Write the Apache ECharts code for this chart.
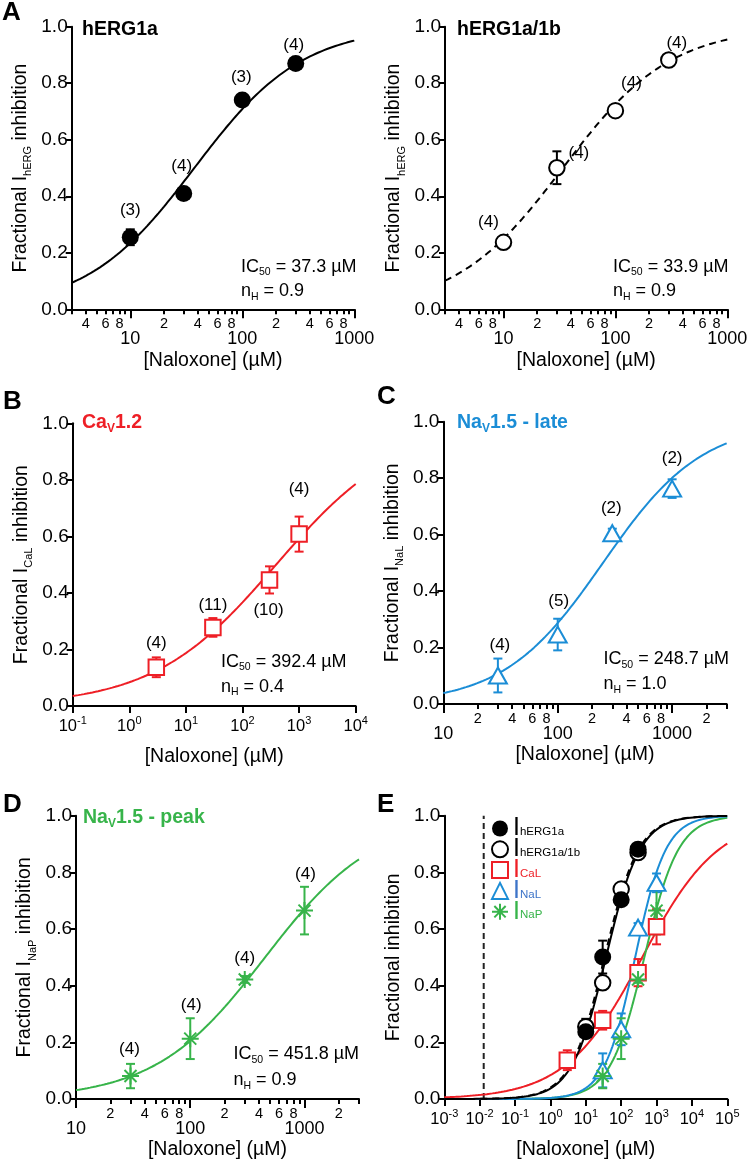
<!DOCTYPE html>
<html><head><meta charset="utf-8">
<script src="https://cdn.jsdelivr.net/npm/echarts@6/dist/echarts.min.js"></script>
<style>html,body{margin:0;padding:0;background:#fff;}#c{width:750px;height:1159px;}</style>
</head><body><div id="c"></div>
<script>
// ---------------- data ----------------
const hergA_x = [10, 30, 100, 300];
const hergA_y = [0.255, 0.410, 0.741, 0.870];
const hergA_err = [0.028, 0.02, 0.015, 0.01];
const hergA_n = [3, 4, 3, 4];

const hergB_x = [10, 30, 100, 300];
const hergB_y = [0.237, 0.501, 0.703, 0.882];
const hergB_err = [0.015, 0.058, 0.015, 0.01];
const hergB_n = [4, 4, 4, 4];

const cal_x = [3, 30, 300, 1000];
const cal_y = [0.137, 0.278, 0.446, 0.608];
const cal_err = [0.035, 0.033, 0.048, 0.062];
const cal_n = [4, 11, 10, 4];

const nal_x = [30, 100, 300, 1000];
const nal_y = [0.101, 0.246, 0.605, 0.763];
const nal_err = [0.06, 0.056, 0.016, 0.033];
const nal_n = [4, 5, 2, 2];

const nap_x = [30, 100, 300, 1000];
const nap_y = [0.081, 0.213, 0.422, 0.665];
const nap_err = [0.043, 0.072, 0.012, 0.084];
const nap_n = [4, 4, 4, 4];

// Hill fit parameters shown in the panels: [IC50 (uM), nH]
const fit_hergA = [37.3, 0.9];
const fit_hergB = [33.9, 0.9];
const fit_cal = [392.4, 0.4];
const fit_nal = [248.7, 1.0];
const fit_nap = [451.8, 0.9];

// dashed reference concentration in panel E
const cmax_x = [0.013, 0.013];
const cmax_y = [0, 1];

// tick labels
const ticksMajorA = [10, 100, 1000];
const ticksMinorLabA = [4, 6, 8, 20, 40, 60, 80, 200, 400, 600, 800];
const ticksMajorCD = [10, 100, 1000];
const ticksMinorLabCD = [20, 40, 60, 80, 200, 400, 600, 800, 2000];
const ticksB = [0.1, 1, 10, 100, 1000, 10000];
const ticksE = [0.001, 0.01, 0.1, 1, 10, 100, 1000, 10000, 100000];
const yTicks = [0, 0.2, 0.4, 0.6, 0.8, 1.0];

// ---------------- styling ----------------
const FONT = 'Liberation Sans, Arial, Helvetica, sans-serif';
const RED = '#ee1f26', BLUE = '#1b8dd6', GREEN = '#37b44a', BLACK = '#000';

function minorTicks(lo, hi) {
  const v = [];
  for (let e = -3; e <= 5; e++) for (let k = 2; k <= 9; k++) {
    const x = +(k * Math.pow(10, e)).toPrecision(6);
    if (x >= lo * 0.9999 && x <= hi * 1.0001) v.push(x);
  }
  return v;
}
function hill(p, lo, hi) {
  const out = [], a = Math.log10(lo), b = Math.log10(hi), n = 300;
  for (let i = 0; i <= n; i++) {
    const x = Math.pow(10, a + (b - a) * i / n);
    out.push([x, 1 / (1 + Math.pow(p[0] / x, p[1]))]);
  }
  return out;
}
const grids = [
  { left: 71.7, top: 26.7, width: 282.6, height: 282.6 },
  { left: 445, top: 26.7, width: 282.3, height: 282.6 },
  { left: 72.7, top: 423.3, width: 283, height: 282.7 },
  { left: 443.3, top: 421.7, width: 283.4, height: 282.3 },
  { left: 76, top: 815.7, width: 283, height: 283.3 },
  { left: 444.3, top: 815.7, width: 283, height: 283.3 }
].map(g => Object.assign({ containLabel: false, outerBoundsMode: 'none' }, g));

const ranges = [[3, 1000], [3, 1000], [0.1, 10000], [10, 3000], [10, 3000], [0.001, 100000]];

const supRich = {
  b: { fontSize: 16.5, lineHeight: 22, fontFamily: FONT, color: BLACK },
  s: { fontSize: 11, lineHeight: 11, verticalAlign: 'top', fontFamily: FONT, color: BLACK }
};
function supFmt(v) { return '{b|10}{s|' + Math.round(Math.log10(v)) + '}'; }
function firstDigit(v) { return String(Math.round(v / Math.pow(10, Math.floor(Math.log10(v) + 1e-9)))); }

const xAxes = [], yAxes = [];
const yNames = [['hERG', BLACK], ['hERG', BLACK], ['CaL', BLACK], ['NaL', BLACK], ['NaP', BLACK], null];
for (let gi = 0; gi < 6; gi++) {
  const [lo, hi] = ranges[gi];
  const logDecades = (gi === 2 || gi === 5);
  const majT = logDecades ? (gi === 2 ? ticksB : ticksE) : (gi < 2 ? ticksMajorA : ticksMajorCD);
  xAxes.push({
    type: 'log', logBase: 10, gridIndex: gi, position: 'bottom', min: lo, max: hi,
    axisLine: { show: true, onZero: false, lineStyle: { color: BLACK, width: 2 } },
    axisTick: { show: true, length: logDecades ? 7 : 9, lineStyle: { color: BLACK, width: 2 }, customValues: majT },
    axisLabel: logDecades
      ? { customValues: majT, formatter: supFmt, rich: supRich, margin: 9, color: BLACK, fontFamily: FONT }
      : { customValues: majT, formatter: v => String(Math.round(v)), margin: 21, fontSize: 18, color: BLACK, fontFamily: FONT },
    splitLine: { show: false }, minorTick: { show: false },
    name: '[Naloxone] (\u00b5M)', nameLocation: 'middle', nameGap: 41,
    nameTextStyle: { fontSize: 19.5, color: BLACK, fontFamily: FONT }
  });
  if (!logDecades) {
    xAxes.push({
      type: 'log', logBase: 10, gridIndex: gi, position: 'bottom', min: lo, max: hi,
      axisLine: { show: false },
      axisTick: { show: true, length: 5, lineStyle: { color: BLACK, width: 2 }, customValues: minorTicks(lo, hi) },
      axisLabel: { customValues: gi < 2 ? ticksMinorLabA : ticksMinorLabCD, formatter: firstDigit, margin: 7, fontSize: 14.5, color: BLACK, fontFamily: FONT },
      splitLine: { show: false }
    });
  } else {
    xAxes.push({ type: 'log', gridIndex: gi, position: 'bottom', min: lo, max: hi, show: false });
  }
  const yn = yNames[gi];
  yAxes.push({
    type: 'value', gridIndex: gi, min: 0, max: 1, interval: 0.2,
    axisLine: { show: true, onZero: false, lineStyle: { color: BLACK, width: 2 } },
    axisTick: { show: true, length: 6, lineStyle: { color: BLACK, width: 2 } },
    axisLabel: { formatter: v => v.toFixed(1), fontSize: 19, margin: 4, color: BLACK, fontFamily: FONT },
    splitLine: { show: false },
    name: yn ? '{a|Fractional I}{s|' + yn[0] + '}{a| inhibition}' : '{a|Fractional inhibition}',
    nameLocation: 'middle', nameGap: 38,
    nameTextStyle: {
      fontFamily: FONT, color: BLACK,
      rich: {
        a: { fontSize: 19.5, lineHeight: 26, fontFamily: FONT, color: BLACK },
        s: { fontSize: 11, lineHeight: 12, verticalAlign: 'bottom', fontFamily: FONT, color: BLACK }
      }
    }
  });
}

// label offsets for "(n)" annotations (layout only)
const offA1 = [[0, -27], [-2, -27], [-1, -23], [-2, -18]];
const offA2 = [[-15, -20], [22, -14], [16, -27], [8, -17]];
const offB = [[0, -24], [0, -22], [-1, 30], [0, -45]];
const offC = [[2, -30], [1, -33], [-1, -25], [0, -30]];
const offD = [[-1, -27], [1, -33], [0, -21], [1, -36]];

const STAR = 'path://M0,-10L0,10M-10,0L10,0M-7.07,-7.07L7.07,7.07M-7.07,7.07L7.07,-7.07';
const SYM = {
  filled: { symbol: 'circle', symbolSize: 17, itemStyle: { color: BLACK, borderWidth: 0, opacity: 1 } },
  open: { symbol: 'emptyCircle', symbolSize: 15.5, itemStyle: { color: BLACK, borderColor: BLACK, borderWidth: 2, opacity: 1 } },
  square: { symbol: 'emptyRect', symbolSize: 15.5, itemStyle: { color: RED, borderColor: RED, borderWidth: 2, opacity: 1 } },
  tri: { symbol: 'emptyTriangle', symbolSize: [18, 16], itemStyle: { color: BLUE, borderColor: BLUE, borderWidth: 2, opacity: 1 } },
  star: { symbol: STAR, symbolSize: 17, itemStyle: { color: GREEN, borderColor: GREEN, borderWidth: 2, opacity: 1 } }
};

function scatter(gi, name, xs, ys, sym, ns, offs) {
  const s = Object.assign({
    type: 'scatter', name, xAxisIndex: 2 * gi, yAxisIndex: gi, z: 6, silent: true,
    data: xs.map((x, i) => offs ? { value: [x, ys[i]], label: { offset: offs[i] } } : { value: [x, ys[i]] })
  }, JSON.parse(JSON.stringify(sym)));
  if (ns) s.label = { show: true, position: 'inside', formatter: p => '(' + ns[p.dataIndex] + ')', color: BLACK, opacity: 1, fontSize: 17, fontFamily: FONT, textBorderWidth: 0 };
  return s;
}
function errbars(gi, xs, ys, es, color) {
  return {
    type: 'custom', xAxisIndex: 2 * gi, yAxisIndex: gi, z: 4, silent: true, clip: false,
    data: xs.map((x, i) => [x, ys[i] - es[i], ys[i] + es[i]]),
    encode: { x: 0, y: [1, 2] },
    renderItem: (params, api) => {
      const x = api.value(0), p1 = api.coord([x, api.value(1)]), p2 = api.coord([x, api.value(2)]), w = 4.5;
      const st = { stroke: color, lineWidth: 2 };
      return { type: 'group', children: [
        { type: 'line', shape: { x1: p1[0], y1: p1[1], x2: p2[0], y2: p2[1] }, style: st },
        { type: 'line', shape: { x1: p1[0] - w, y1: p1[1], x2: p1[0] + w, y2: p1[1] }, style: st },
        { type: 'line', shape: { x1: p2[0] - w, y1: p2[1], x2: p2[0] + w, y2: p2[1] }, style: st }
      ] };
    }
  };
}
function curve(gi, p, color, dashed) {
  const [lo, hi] = ranges[gi];
  return {
    type: 'line', xAxisIndex: 2 * gi, yAxisIndex: gi, z: 2, silent: true, symbol: 'none', showSymbol: false,
    data: hill(p, lo, hi), lineStyle: { color, width: 2, type: dashed ? [7, 5] : 'solid' }
  };
}

const series = [
  curve(0, fit_hergA, BLACK, false),
  errbars(0, hergA_x, hergA_y, hergA_err, BLACK),
  scatter(0, 'a1', hergA_x, hergA_y, SYM.filled, hergA_n, offA1),
  curve(1, fit_hergB, BLACK, true),
  errbars(1, hergB_x, hergB_y, hergB_err, BLACK),
  scatter(1, 'a2', hergB_x, hergB_y, SYM.open, hergB_n, offA2),
  curve(2, fit_cal, RED, false),
  errbars(2, cal_x, cal_y, cal_err, RED),
  scatter(2, 'b', cal_x, cal_y, SYM.square, cal_n, offB),
  curve(3, fit_nal, BLUE, false),
  errbars(3, nal_x, nal_y, nal_err, BLUE),
  scatter(3, 'c', nal_x, nal_y, SYM.tri, nal_n, offC),
  curve(4, fit_nap, GREEN, false),
  errbars(4, nap_x, nap_y, nap_err, GREEN),
  scatter(4, 'd', nap_x, nap_y, SYM.star, nap_n, offD),
  { type: 'line', xAxisIndex: 10, yAxisIndex: 5, z: 1, silent: true, symbol: 'none',
    data: cmax_x.map((x, i) => [x, cmax_y[i]]), lineStyle: { color: '#222', width: 2, type: [6, 4] } },
  curve(5, fit_cal, RED, false),
  curve(5, fit_nap, GREEN, false),
  curve(5, fit_nal, BLUE, false),
  curve(5, fit_hergB, BLACK, true),
  curve(5, fit_hergA, BLACK, false),
  errbars(5, cal_x, cal_y, cal_err, RED),
  errbars(5, nal_x, nal_y, nal_err, BLUE),
  errbars(5, nap_x, nap_y, nap_err, GREEN),
  errbars(5, hergA_x, hergA_y, hergA_err, BLACK),
  errbars(5, hergB_x, hergB_y, hergB_err, BLACK),
  scatter(5, 'CaL', cal_x, cal_y, SYM.square),
  scatter(5, 'NaL', nal_x, nal_y, SYM.tri),
  scatter(5, 'NaP', nap_x, nap_y, SYM.star),
  scatter(5, 'hERG1a/1b', hergA_x, hergA_y, SYM.open),
  scatter(5, 'hERG1a', hergB_x, hergB_y, SYM.filled)
];

function T(text, left, top, rich) {
  return { text, left, top, padding: 0, textStyle: { fontFamily: FONT, fontWeight: 'normal', rich } };
}
const letterStyle = { textStyle: { fontSize: 26, fontWeight: 'bold', color: BLACK, fontFamily: FONT, lineHeight: 28 } };
const titleRich = c => ({
  b: { fontSize: 19.5, fontWeight: 'bold', color: c, lineHeight: 24, fontFamily: FONT },
  s: { fontSize: 12, fontWeight: 'bold', color: c, lineHeight: 12, verticalAlign: 'bottom', fontFamily: FONT }
});
const icRich = {
  t: { fontSize: 18, fontWeight: 'normal', lineHeight: 22, color: BLACK, fontFamily: FONT },
  s: { fontSize: 10.5, fontWeight: 'normal', lineHeight: 10, verticalAlign: 'bottom', color: BLACK, fontFamily: FONT }
};
function icTexts(left, top1, top2, ic, nh) {
  return [
    T('{t|IC}{s|50}{t| = ' + ic.toFixed(1) + ' \u00b5M}', left, top1, icRich),
    T('{t|n}{s|H}{t| = ' + nh.toFixed(1) + '}', left, top2, icRich)
  ];
}
const titles = [
  Object.assign({ text: 'A', left: 2, top: -1, padding: 0 }, letterStyle),
  Object.assign({ text: 'B', left: 3, top: 388, padding: 0 }, letterStyle),
  Object.assign({ text: 'C', left: 377, top: 383, padding: 0 }, letterStyle),
  Object.assign({ text: 'D', left: 3, top: 791, padding: 0 }, letterStyle),
  Object.assign({ text: 'E', left: 377, top: 791, padding: 0 }, letterStyle),
  T('{b|hERG1a}', 82, 18, titleRich(BLACK)),
  T('{b|hERG1a/1b}', 457, 18, titleRich(BLACK)),
  T('{b|Ca}{s|V}{b|1.2}', 82, 410.5, titleRich(RED)),
  T('{b|Na}{s|V}{b|1.5 - late}', 457, 410.5, titleRich(BLUE)),
  T('{b|Na}{s|V}{b|1.5 - peak}', 83, 805.5, titleRich(GREEN)),
  ...icTexts(241, 256, 280.5, fit_hergA[0], fit_hergA[1]),
  ...icTexts(613, 256, 280.5, fit_hergB[0], fit_hergB[1]),
  ...icTexts(221, 651, 676, fit_cal[0], fit_cal[1]),
  ...icTexts(603.5, 648.5, 673.5, fit_nal[0], fit_nal[1]),
  ...icTexts(233.5, 1043.5, 1069.5, fit_nap[0], fit_nap[1])
];

const legendColors = { 'hERG1a': 'k', 'hERG1a/1b': 'k', 'CaL': 'r', 'NaL': 'b', 'NaP': 'g' };
const lc = { k: BLACK, r: RED, b: '#3d74c8', g: GREEN };
const legendRich = {};
Object.keys(lc).forEach(k => {
  legendRich['I' + k] = { fontSize: 25, lineHeight: 19, color: lc[k], fontFamily: FONT };
  legendRich['s' + k] = { fontSize: 11.5, lineHeight: 11, verticalAlign: 'bottom', color: lc[k], fontFamily: FONT };
});

const chart = echarts.init(document.getElementById('c'), null, { renderer: 'canvas' });
chart.setOption({
  animation: false,
  backgroundColor: '#fff',
  textStyle: { fontFamily: FONT },
  title: titles,
  grid: grids,
  xAxis: xAxes,
  yAxis: yAxes,
  legend: {
    data: ['hERG1a', 'hERG1a/1b', 'CaL', 'NaL', 'NaP'],
    orient: 'vertical', left: 491, top: 816, itemWidth: 16, itemHeight: 16, itemGap: -4.2,
    selectedMode: false, padding: 0,
    formatter: name => { const k = legendColors[name]; return '{I' + k + '|I}{s' + k + '|' + name + '}'; },
    textStyle: { rich: legendRich, fontFamily: FONT }
  },
  series
});
</script></body></html>
